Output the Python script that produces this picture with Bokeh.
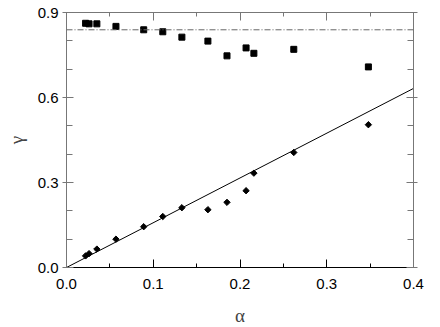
import math
from bokeh.plotting import figure
from bokeh.models import (LinearAxis, Range1d, SingleIntervalTicker, Span, ColumnDataSource,
                          PrintfTickFormatter)
from bokeh.embed import file_html
from bokeh.resources import INLINE

# data
alpha = [0.022, 0.026, 0.035, 0.057, 0.089, 0.111, 0.133, 0.163, 0.185, 0.207, 0.216, 0.262, 0.348]
gamma_sq = [0.862, 0.860, 0.860, 0.851, 0.839, 0.832, 0.813, 0.799, 0.747, 0.775, 0.756, 0.770, 0.708]
gamma_dia = [0.041, 0.049, 0.065, 0.100, 0.144, 0.180, 0.211, 0.204, 0.230, 0.271, 0.333, 0.406, 0.504]
fit_x = [0.0, 0.4]
fit_y = [0.0, 0.632]
ref_level = 0.839

FONT = "Liberation Sans"
GREEK = "Liberation Serif"

p = figure(frame_width=347, frame_height=255, output_backend="svg", toolbar_location=None,
           x_range=Range1d(0, 0.4), y_range=Range1d(0, 0.9),
           x_axis_type=None, y_axis_type=None,
           min_border_left=66, min_border_right=12, min_border_top=12, min_border_bottom=56)
p.outline_line_color = None
p.grid.visible = False
p.background_fill_color = "white"

def style_axis(ax, color, show_labels):
    ax.axis_line_color = color
    ax.axis_line_width = 1
    ax.major_tick_line_color = color
    ax.minor_tick_line_color = color
    ax.major_tick_in = 8
    ax.major_tick_out = 0
    ax.minor_tick_in = 4
    ax.minor_tick_out = 0
    ax.formatter = PrintfTickFormatter(format="%.1f")
    ax.major_label_text_font = FONT
    ax.major_label_text_font_size = "15px"
    ax.major_label_text_color = "black"
    if not show_labels:
        ax.major_label_text_alpha = 0
        ax.major_label_text_font_size = "1px"
        ax.major_label_standoff = 0

xb = LinearAxis(ticker=SingleIntervalTicker(interval=0.1, num_minor_ticks=2))
style_axis(xb, "black", True)
xb.major_label_standoff = 11
xb.axis_label = "α"
xb.axis_label_text_font = GREEK
xb.axis_label_text_font_style = "normal"
xb.axis_label_text_font_size = "19px"
xb.axis_label_standoff = 13
p.add_layout(xb, "below")

xt = LinearAxis(ticker=SingleIntervalTicker(interval=0.1, num_minor_ticks=2))
style_axis(xt, "#777777", False)
p.add_layout(xt, "above")

yl = LinearAxis(ticker=SingleIntervalTicker(interval=0.3, num_minor_ticks=3))
style_axis(yl, "#777777", True)
yl.major_tick_in = 7
yl.major_tick_out = 4
yl.minor_tick_in = 6
yl.major_label_standoff = 4
yl.axis_label = "γ"
yl.axis_label_text_font = GREEK
yl.axis_label_text_font_style = "normal"
yl.axis_label_text_font_size = "19px"
yl.axis_label_standoff = 8
p.add_layout(yl, "left")

yr = LinearAxis(ticker=SingleIntervalTicker(interval=0.3, num_minor_ticks=3))
style_axis(yr, "#777777", False)
yr.major_tick_in = 7
yr.major_tick_out = 4
yr.minor_tick_in = 6
p.add_layout(yr, "right")

p.add_layout(Span(location=ref_level, dimension="width", line_color="#666666",
                  line_width=1, line_dash="6 2 1 2"))

p.line(fit_x, fit_y, line_color="black", line_width=1)

src = ColumnDataSource(dict(a=alpha, s=gamma_sq, d=gamma_dia))
p.scatter("a", "s", source=src, marker="square", size=6, fill_color="black", line_color="black")
p.scatter("a", "d", source=src, marker="square", size=4.5, angle=math.pi / 4,
          fill_color="black", line_color="black")

open("out.html", "w").write(file_html(p, INLINE))
